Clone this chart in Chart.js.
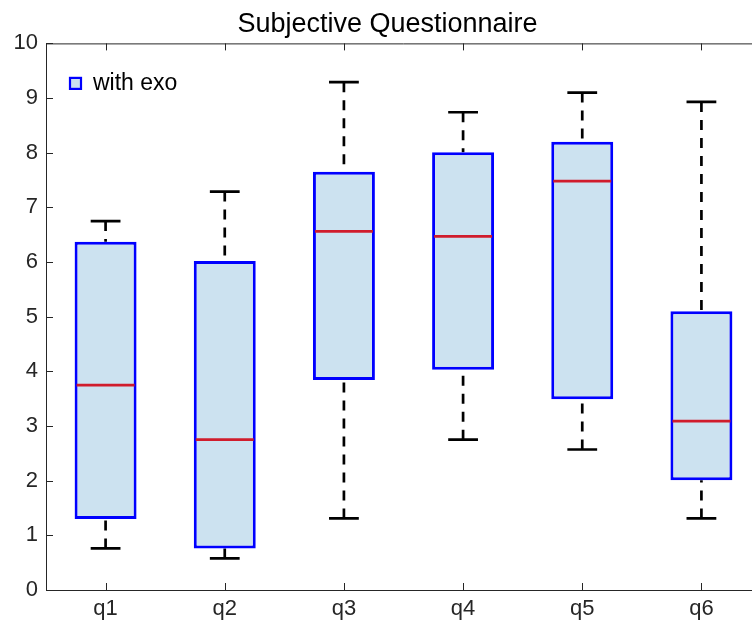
<!DOCTYPE html>
<html><head><meta charset="utf-8">
<script src="https://cdn.jsdelivr.net/npm/chart.js@4/dist/chart.umd.min.js"></script>
<style>html,body{margin:0;padding:0;overflow:hidden;background:#fff}canvas{display:block}</style>
</head><body>
<canvas id="c" width="775" height="623"></canvas>
<script>
const categories = ['q1','q2','q3','q4','q5','q6'];
const whiskerLow  = [0.76, 0.58, 1.31, 2.75, 2.57, 1.31];
const quart1      = [1.30, 0.76, 3.84, 4.03, 3.49, 2.01];
const medians     = [3.75, 2.75, 6.56, 6.47, 7.48, 3.09];
const quart3      = [6.37, 6.02, 7.65, 8.01, 8.20, 5.10];
const whiskerHigh = [6.75, 7.29, 9.29, 8.74, 9.10, 8.93];
const seriesName = 'with exo';
const titleText = 'Subjective Questionnaire';

const AXIS = '#262626';
const FONT = '"Liberation Sans", Arial, Helvetica, sans-serif';

const boxPlugin = {
  id: 'boxExtras',
  beforeDatasetsDraw(chart) {
    const ctx = chart.ctx, x = chart.scales.x, y = chart.scales.y;
    const step = x.getPixelForValue(1) - x.getPixelForValue(0);
    ctx.save();
    ctx.strokeStyle = '#000';
    ctx.lineWidth = 2.7;
    categories.forEach((c, i) => {
      const px = x.getPixelForValue(i);
      ctx.setLineDash([10, 8]);
      ctx.beginPath();
      ctx.moveTo(px, y.getPixelForValue(whiskerHigh[i]));
      ctx.lineTo(px, y.getPixelForValue(quart3[i]));
      ctx.moveTo(px, y.getPixelForValue(whiskerLow[i]));
      ctx.lineTo(px, y.getPixelForValue(quart1[i]));
      ctx.stroke();
      ctx.setLineDash([]);
      const hw = step * 0.125;
      ctx.beginPath();
      ctx.moveTo(px - hw, y.getPixelForValue(whiskerHigh[i]));
      ctx.lineTo(px + hw, y.getPixelForValue(whiskerHigh[i]));
      ctx.moveTo(px - hw, y.getPixelForValue(whiskerLow[i]));
      ctx.lineTo(px + hw, y.getPixelForValue(whiskerLow[i]));
      ctx.stroke();
    });
    ctx.restore();
  },
  afterDatasetsDraw(chart) {
    const ctx = chart.ctx, y = chart.scales.y;
    const meta = chart.getDatasetMeta(0);
    ctx.save();
    ctx.strokeStyle = '#d01c2c';
    ctx.lineWidth = 2.7;
    meta.data.forEach((bar, i) => {
      const hw = bar.width / 2 - 2;
      const py = y.getPixelForValue(medians[i]);
      ctx.beginPath();
      ctx.moveTo(bar.x - hw, py);
      ctx.lineTo(bar.x + hw, py);
      ctx.stroke();
    });
    ctx.restore();
  },
  afterDraw(chart) {
    const ctx = chart.ctx, x = chart.scales.x, y = chart.scales.y;
    const a = chart.chartArea;
    ctx.save();
    ctx.strokeStyle = AXIS;
    ctx.lineWidth = 1;
    ctx.beginPath();
    ctx.moveTo(a.left, a.top + 0.5); ctx.lineTo(a.right, a.top + 0.5);
    ctx.moveTo(a.right - 0.5, a.top); ctx.lineTo(a.right - 0.5, a.bottom);
    const tl = 7;
    y.ticks.forEach(t => {
      const py = Math.round(y.getPixelForValue(t.value)) + 0.5;
      ctx.moveTo(a.left, py); ctx.lineTo(a.left + tl, py);
      ctx.moveTo(a.right, py); ctx.lineTo(a.right - tl, py);
    });
    categories.forEach((c, i) => {
      const px = Math.round(x.getPixelForValue(i)) + 0.5;
      ctx.moveTo(px, a.bottom); ctx.lineTo(px, a.bottom - tl);
      ctx.moveTo(px, a.top); ctx.lineTo(px, a.top + tl);
    });
    ctx.stroke();
    // legend
    const lx = a.left + 24, ly = a.top + 40;
    ctx.fillStyle = '#cce2f0';
    ctx.strokeStyle = '#0000ff';
    ctx.lineWidth = 2.2;
    ctx.fillRect(lx, ly - 5.5, 11, 11);
    ctx.strokeRect(lx, ly - 5.5, 11, 11);
    ctx.fillStyle = '#000';
    ctx.font = '23px ' + FONT;
    ctx.textBaseline = 'middle';
    ctx.textAlign = 'left';
    ctx.fillText(seriesName, lx + 23, ly);
    ctx.restore();
  }
};

new Chart(document.getElementById('c'), {
  type: 'bar',
  data: {
    labels: categories,
    datasets: [{
      label: seriesName,
      data: quart1.map((v, i) => [v, quart3[i]]),
      backgroundColor: '#cce2f0',
      borderColor: '#0000ff',
      borderWidth: 3,
      borderSkipped: false,
      barPercentage: 0.52,
      categoryPercentage: 1
    }]
  },
  options: {
    responsive: false,
    animation: false,
    layout: { padding: { left: 14, right: 14, top: 0, bottom: 0 } },
    plugins: {
      legend: { display: false },
      tooltip: { enabled: false },
      title: {
        display: true,
        text: titleText,
        color: '#000',
        font: { family: FONT, size: 27, weight: 'normal' },
        padding: { top: 8, bottom: 3 }
      }
    },
    scales: {
      x: {
        type: 'category',
        offset: true,
        grid: { display: false, drawTicks: false },
        border: { display: true, color: AXIS, width: 1 },
        ticks: { color: AXIS, font: { family: FONT, size: 22 }, padding: 6 },
        afterFit(s) { s.height = 33; }
      },
      y: {
        min: 0, max: 10,
        grid: { display: false, drawTicks: false },
        border: { display: true, color: AXIS, width: 1 },
        ticks: { stepSize: 1, color: AXIS, font: { family: FONT, size: 22 }, padding: 8 },
        afterFit(s) { s.width = 32; }
      }
    }
  },
  plugins: [boxPlugin]
});
</script>
</body></html>
